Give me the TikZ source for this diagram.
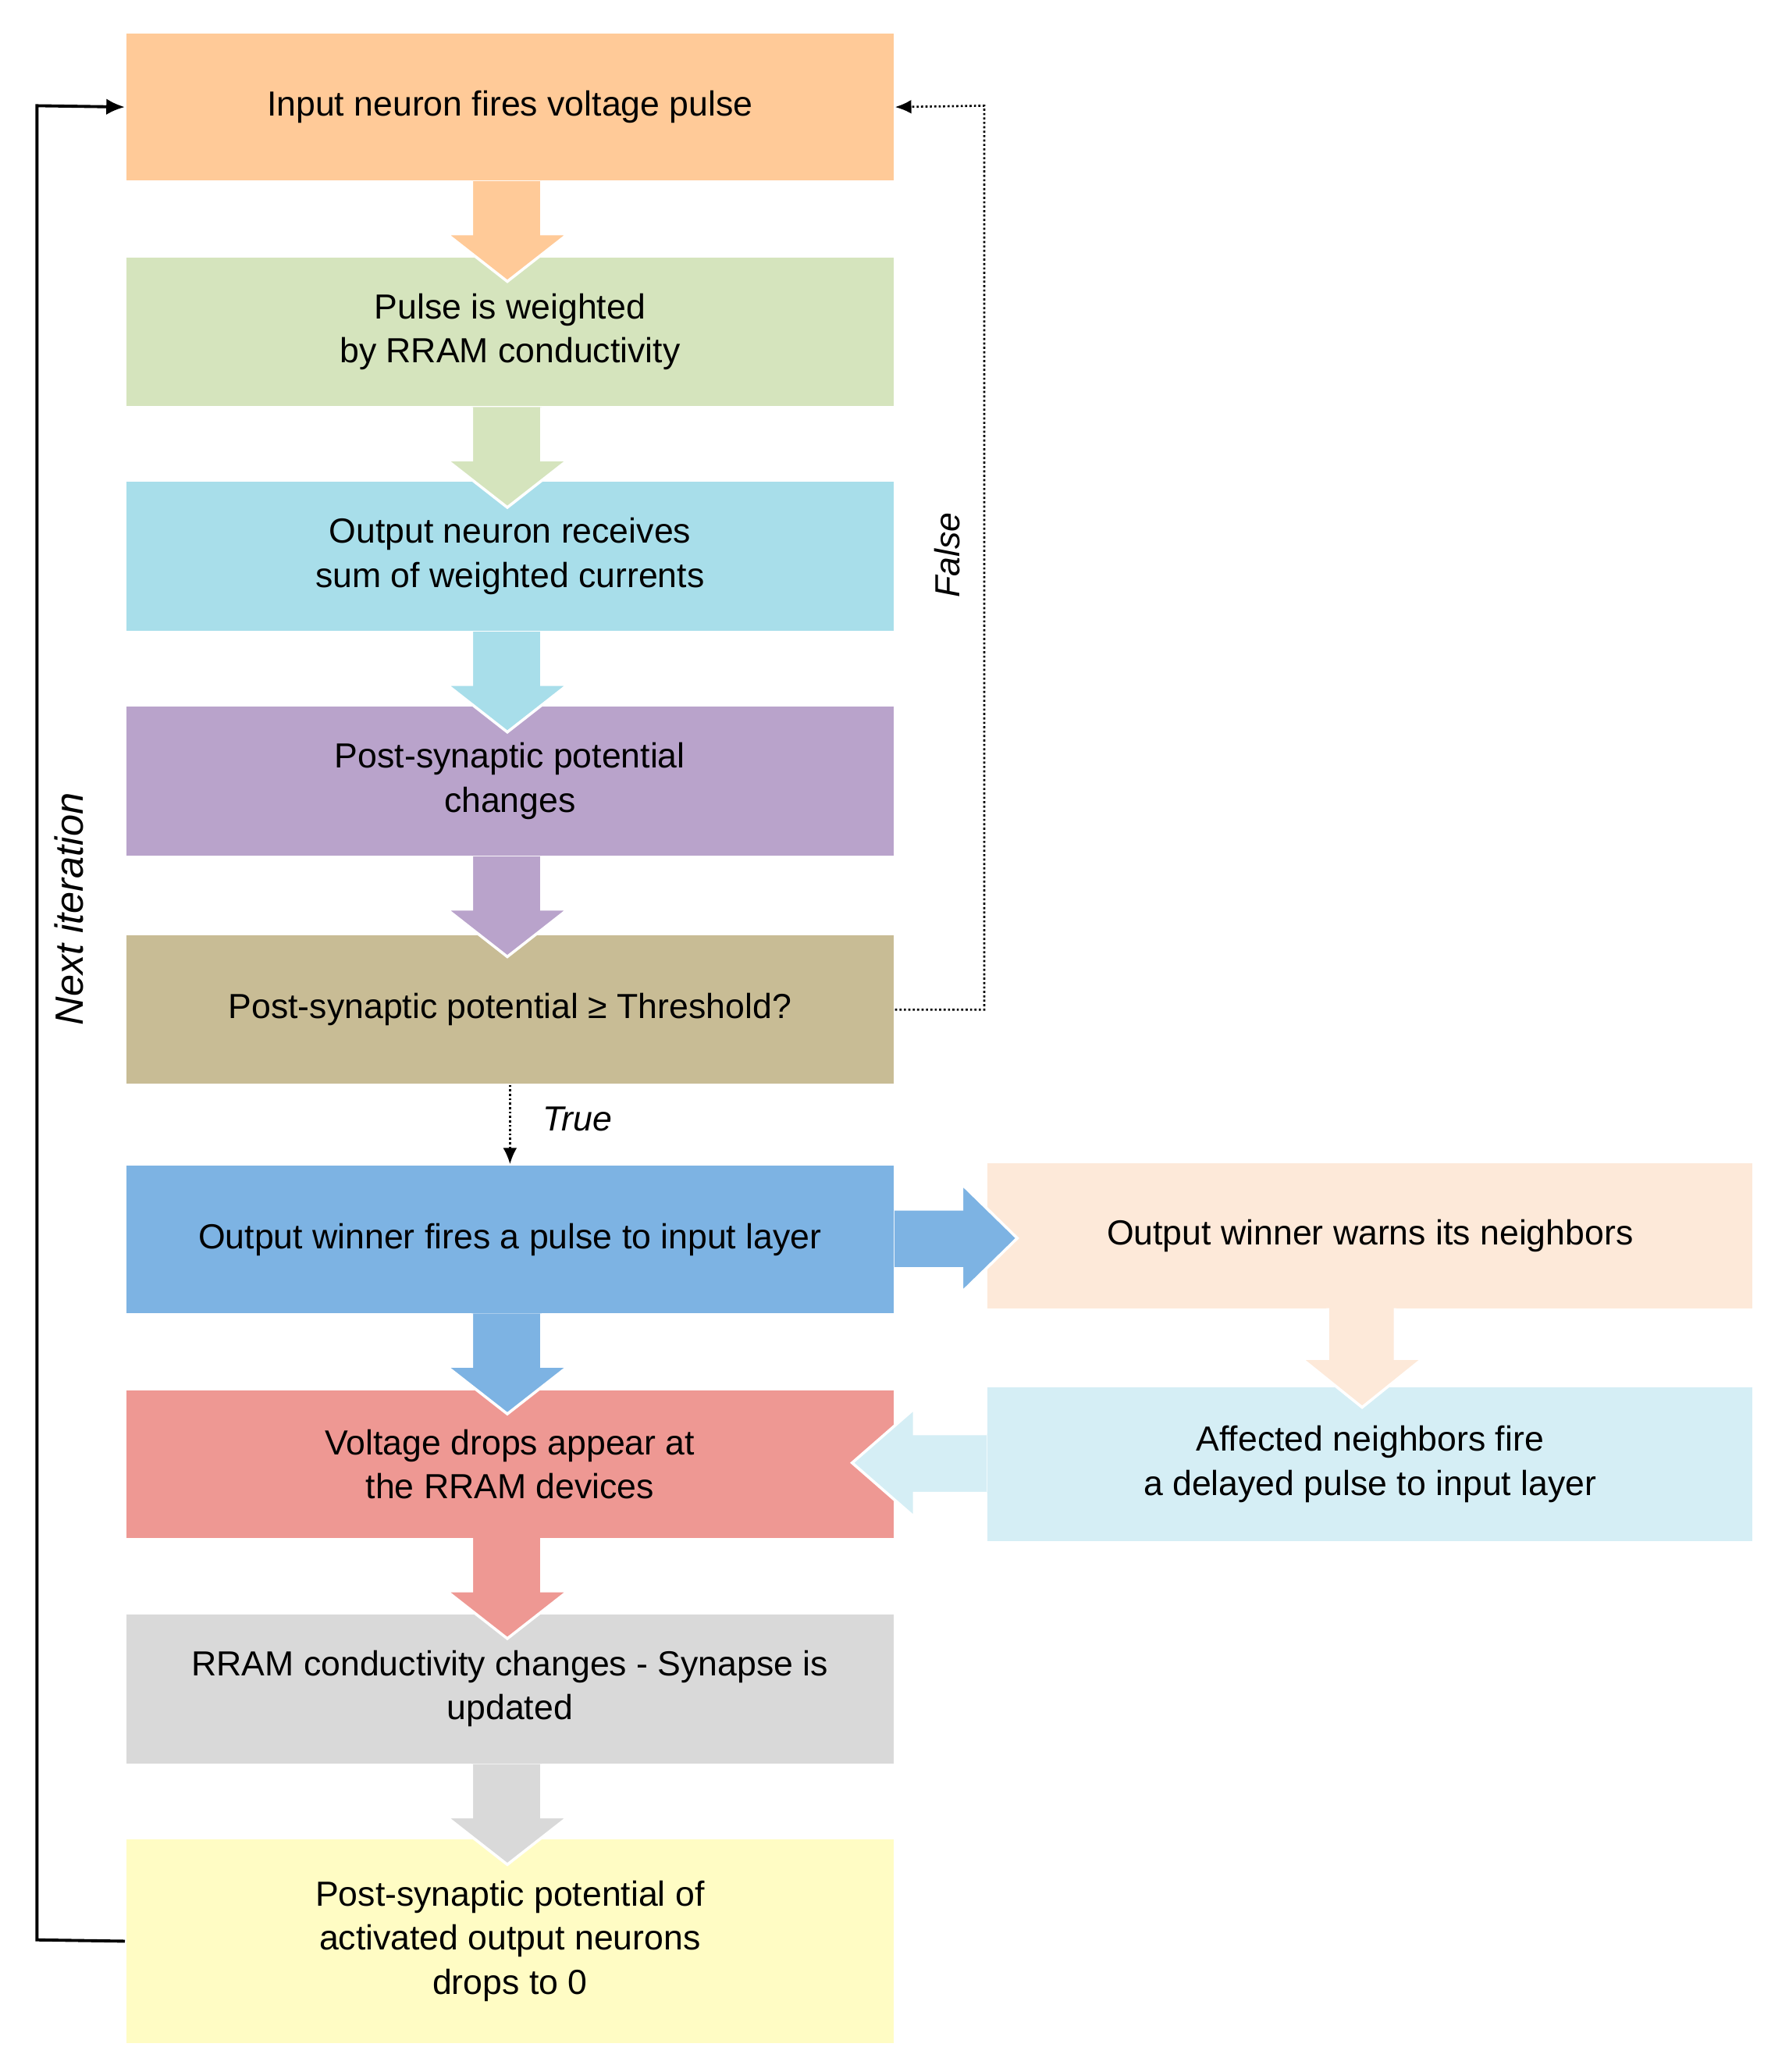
\documentclass[tikz,border=0pt]{standalone}
\usepackage{fontspec}
\setmainfont{Liberation Sans}
\usetikzlibrary{arrows.meta}
\definecolor{cA}{HTML}{FFCA98}
\definecolor{cB}{HTML}{D5E4BD}
\definecolor{cC}{HTML}{A8DEEA}
\definecolor{cD}{HTML}{B9A3CB}
\definecolor{cE}{HTML}{C8BC95}
\definecolor{cF}{HTML}{7DB3E3}
\definecolor{cG}{HTML}{EE9893}
\definecolor{cH}{HTML}{D9D9D9}
\definecolor{cI}{HTML}{FFFCC4}
\definecolor{cJ}{HTML}{FDE9D9}
\definecolor{cK}{HTML}{D5EEF5}
\begin{document}
\begin{tikzpicture}[x=0.02cm,y=-0.02cm,
 box/.style={draw=white,line width=0.6pt,fill=#1,minimum width=11.64cm,align=center,font=\fontsize{15}{19}\selectfont,inner sep=0pt},
 rbox/.style={box=#1,minimum width=11.6cm},
 barrow/.style={fill=#1,draw=white,line width=1.2pt,line join=miter}]
\useasboundingbox (0,0) rectangle (1354,1568);
\node[box=cA,minimum height=2.24cm] (b1) at (386,81) {Input neuron fires voltage pulse};
\node[box=cB,minimum height=2.26cm] (b2) at (386,251) {Pulse is weighted\\by RRAM conductivity};
\node[box=cC,minimum height=2.28cm] (b3) at (386,421) {Output neuron receives\\sum of weighted currents};
\node[box=cD,minimum height=2.28cm] (b4) at (386,591) {Post-synaptic potential\\changes};
\node[box=cE,minimum height=2.26cm] (b5) at (386,764) {Post-synaptic potential ≥ Threshold?};
\node[box=cF,minimum height=2.26cm] (b6) at (386,938) {Output winner fires a pulse to input layer};
\node[box=cG,minimum height=2.26cm] (b7) at (386,1108) {Voltage drops appear at\\the RRAM devices};
\node[box=cH,minimum height=2.28cm] (b8) at (386,1278) {RRAM conductivity changes - Synapse is\\updated};
\node[box=cI,minimum height=3.1cm] (b9) at (386,1469) {Post-synaptic potential of\\activated output neurons\\drops to 0};
\node[rbox=cJ,minimum height=2.22cm] (r1) at (1037,935) {Output winner warns its neighbors};
\node[rbox=cK,minimum height=2.34cm] (r2) at (1037,1108) {Affected neighbors fire\\a delayed pulse to input layer};
% down block arrows
\foreach \t/\c in {137/cA,308/cB,478/cC,648/cD,994/cF,1164/cG,1335/cH}{
 \draw[barrow=\c] (357,\t) -- (357,\t+40) -- (338,\t+40) -- (384,\t+76) -- (430,\t+40) -- (410,\t+40) -- (410,\t) ;
}
\draw[barrow=cJ] (1005,990) -- (1005,1028) -- (985,1028) -- (1031,1065) -- (1077,1028) -- (1056,1028) -- (1056,990);
% right arrow
\draw[barrow=cF] (677,915) -- (728,915) -- (728,896) -- (770,937) -- (728,978) -- (728,960) -- (677,960);
% left arrow
\draw[barrow=cK] (747,1085) -- (692,1085) -- (692,1066) -- (645,1107) -- (692,1148) -- (692,1130) -- (747,1130);
% loops
\coordinate (lb) at (28,1468); \coordinate (lt) at (28,80);
\draw[line width=1.3pt,-{Latex[length=8pt,width=7pt]}] (b9.west) -- (lb) -- (lt) -- (b1.west);
\node[rotate=90,font=\itshape\fontsize{17}{20}\selectfont] (ni) at (52,688) {Next iteration};
\coordinate (fb) at (745,764); \coordinate (ft) at (745,80);
\draw[densely dotted,line width=0.9pt,-{Latex[length=7pt,width=6pt]}] (b5.east) -- (fb) -- (ft) -- (b1.east);
\node[rotate=90,font=\itshape\fontsize{15}{18}\selectfont] (fl) at (717,420) {False};
\draw[densely dotted,line width=0.9pt,-{Latex[length=7pt,width=6pt]}] (b5.south) -- (b6.north);
\node[font=\itshape\fontsize{15}{18}\selectfont] (tl) at (437,847) {True};
\end{tikzpicture}
\end{document}
